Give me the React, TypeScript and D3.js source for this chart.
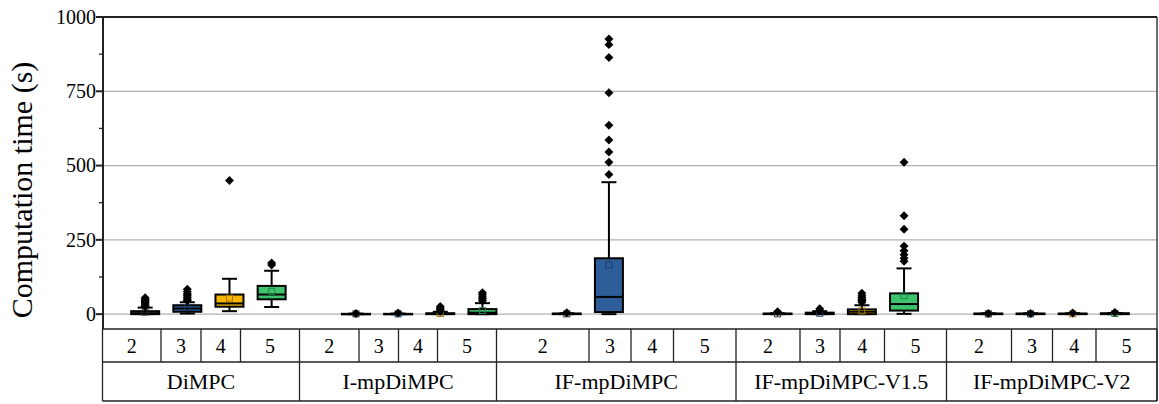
import React from "react";
import * as d3 from "d3";

// ---------- data ----------
const groups = ["DiMPC", "I-mpDiMPC", "IF-mpDiMPC", "IF-mpDiMPC-V1.5", "IF-mpDiMPC-V2"];
const sizes = ["2", "3", "4", "5"];
const yTicks = [0, 250, 500, 750, 1000];
const yMinorTicks = [125, 375, 625, 875];

// per group, per size (null = no data)
const whiskerLow = [
  [0, 2, 10, 24],
  [0, 0, 0, 0],
  [0, 0, null, null],
  [0, 0, 0, 1],
  [0, 0, 0, 0],
];
const q1 = [
  [0, 8, 25, 50],
  [0, 0, 0, 0],
  [0, 7, null, null],
  [0, 0, 0, 12],
  [0, 0, 0, 0],
];
const median = [
  [3, 19, 36, 66],
  [0.5, 0.5, 1, 5],
  [1, 58, null, null],
  [1, 2, 8, 34],
  [1, 1, 1, 1],
];
const q3 = [
  [10, 30, 66, 95],
  [1, 1, 3, 17],
  [2, 188, null, null],
  [2, 5, 16, 70],
  [2, 2, 2, 3],
];
const whiskerHigh = [
  [22, 40, 119, 146],
  [2, 2, 8, 37],
  [3, 444, null, null],
  [3, 10, 30, 154],
  [3, 3, 3, 4],
];
const means = [
  [7, 22, 54, 77],
  [1, 1, 2, 12],
  [1, 166, null, null],
  [1, 3, 11, 62],
  [1, 1, 1, 2],
];
const outliers = [
  [[26, 30, 34, 38, 42, 46, 50, 55], [45, 50, 56, 62, 68, 75, 84], [450], [165, 172]],
  [[2], [4], [10, 15, 20, 26], [45, 52, 58, 65, 72]],
  [[5], [470, 511, 546, 586, 636, 745, 864, 907, 926], [], []],
  [[8], [12, 18], [40, 45, 50, 56, 62, 70], [178, 188, 200, 213, 229, 286, 331, 511]],
  [[2], [2], [4], [6]],
];
const sizeColors = ["#6b6b6b", "#2e5e99", "#f7b500", "#3cc46e"];
const meanColors = ["#333333", "#1c3d66", "#a67a00", "#23864a"];

// ---------- layout ----------
const W = 1159;
const H = 404;
const plotL = 103;
const plotR = 1157;
const plotT = 17;
const plotB = 329;
const row1B = 362;
const row2B = 401;
// table column edges (layout of the category table)
const groupEdges = [102.5, 299.5, 496.5, 736, 946.5, 1157];
const subEdges = [
  [161, 201, 240.5],
  [359, 398.5, 437.5],
  [589, 631, 673.5],
  [800, 840, 884.5],
  [1011.5, 1052.5, 1096],
];

const serif = "'Liberation Serif', 'Times New Roman', Times, serif";

export default function App() {
  const y = d3.scaleLinear().domain([-50, 1000]).range([plotB, plotT]);
  const x = d3.scaleLinear().domain([-1, 24]).range([plotL, plotR]);
  const slot = (g: number, s: number) => g * 5 + s;
  const boxW = 28;
  const capW = 15;
  const diamond = d3.symbol().type(d3.symbolSquare).size(40)() as string;

  const boxes: React.ReactNode[] = [];
  groups.forEach((_, gi) => {
    sizes.forEach((__, si) => {
      if (q1[gi][si] === null) return;
      const cx = x(slot(gi, si));
      const lo = y(whiskerLow[gi][si] as number);
      const hi = y(whiskerHigh[gi][si] as number);
      const b1 = y(q1[gi][si] as number);
      const b3 = y(q3[gi][si] as number);
      const md = y(median[gi][si] as number);
      const mn = y(means[gi][si] as number);
      boxes.push(
        <g key={`b${gi}-${si}`}>
          <line x1={cx} x2={cx} y1={hi} y2={b3} stroke="#000" strokeWidth={2} />
          <line x1={cx} x2={cx} y1={b1} y2={lo} stroke="#000" strokeWidth={2} />
          <line x1={cx - capW / 2} x2={cx + capW / 2} y1={hi} y2={hi} stroke="#000" strokeWidth={2} />
          <line x1={cx - capW / 2} x2={cx + capW / 2} y1={lo} y2={lo} stroke="#000" strokeWidth={2} />
          <rect
            x={cx - boxW / 2}
            y={b3}
            width={boxW}
            height={Math.max(0.5, b1 - b3)}
            fill={sizeColors[si]}
            stroke="#000"
            strokeWidth={2}
          />
          <line x1={cx - boxW / 2} x2={cx + boxW / 2} y1={md} y2={md} stroke="#000" strokeWidth={2} />
          <rect x={cx - 3} y={mn - 3} width={6} height={6} fill="none" stroke={meanColors[si]} strokeWidth={1} />
          {outliers[gi][si].map((v, k) => (
            <path key={k} d={diamond} transform={`translate(${cx},${y(v)}) rotate(45)`} fill="#000" />
          ))}
        </g>
      );
    });
  });

  return (
    <svg
      width={W}
      height={H}
      style={{ position: "absolute", left: 0, top: 0, background: "#fff", fontFamily: serif }}
    >
      <rect x={0} y={0} width={W} height={H} fill="#fff" />
      {/* grid */}
      {yTicks
        .filter((t) => t < 1000)
        .map((t) => (
          <line key={`g${t}`} x1={plotL} x2={plotR} y1={y(t)} y2={y(t)} stroke="#b0b0b0" strokeWidth={1.3} />
        ))}
      {/* boxes */}
      {boxes}
      {/* frame */}
      <line x1={plotL} x2={plotR} y1={plotT} y2={plotT} stroke="#222" strokeWidth={2} />
      <line x1={plotR} x2={plotR} y1={plotT} y2={row2B} stroke="#222" strokeWidth={1.3} />
      <line x1={plotL} x2={plotL} y1={plotT - 1} y2={plotB} stroke="#222" strokeWidth={2} />
      {/* y ticks */}
      {yTicks.map((t) => (
        <g key={`t${t}`}>
          <line x1={plotL - 7} x2={plotL} y1={y(t)} y2={y(t)} stroke="#222" strokeWidth={2} />
          <text x={96} y={y(t)} dy="0.34em" textAnchor="end" fontSize={20} fill="#000">
            {t}
          </text>
        </g>
      ))}
      {yMinorTicks.map((t) => (
        <line key={`m${t}`} x1={plotL - 4} x2={plotL} y1={y(t)} y2={y(t)} stroke="#222" strokeWidth={1.3} />
      ))}
      <text
        transform={`translate(32,190) rotate(-90)`}
        textAnchor="middle"
        fontSize={30}
        fill="#000"
      >
        Computation time (s)
      </text>
      {/* table */}
      <line x1={groupEdges[0]} x2={plotR} y1={plotB} y2={plotB} stroke="#222" strokeWidth={1.5} />
      <line x1={groupEdges[0]} x2={plotR} y1={row1B} y2={row1B} stroke="#222" strokeWidth={1.5} />
      <line x1={groupEdges[0]} x2={plotR} y1={row2B} y2={row2B} stroke="#222" strokeWidth={1.5} />
      {groupEdges.map((e, i) => (
        <line key={`ge${i}`} x1={e} x2={e} y1={plotB} y2={row2B} stroke="#222" strokeWidth={1.3} />
      ))}
      {groups.map((g, gi) => {
        const edges = [groupEdges[gi], ...subEdges[gi], groupEdges[gi + 1]];
        return (
          <g key={`tg${gi}`}>
            {subEdges[gi].map((e, k) => (
              <line key={k} x1={e} x2={e} y1={plotB} y2={row1B} stroke="#222" strokeWidth={1.3} />
            ))}
            {sizes.map((s, si) => (
              <text
                key={s}
                x={(edges[si] + edges[si + 1]) / 2}
                y={(plotB + row1B) / 2}
                dy="0.35em"
                textAnchor="middle"
                fontSize={20}
              >
                {s}
              </text>
            ))}
            <text
              x={(groupEdges[gi] + groupEdges[gi + 1]) / 2}
              y={(row1B + row2B) / 2}
              dy="0.35em"
              textAnchor="middle"
              fontSize={22}
            >
              {g}
            </text>
          </g>
        );
      })}
    </svg>
  );
}
